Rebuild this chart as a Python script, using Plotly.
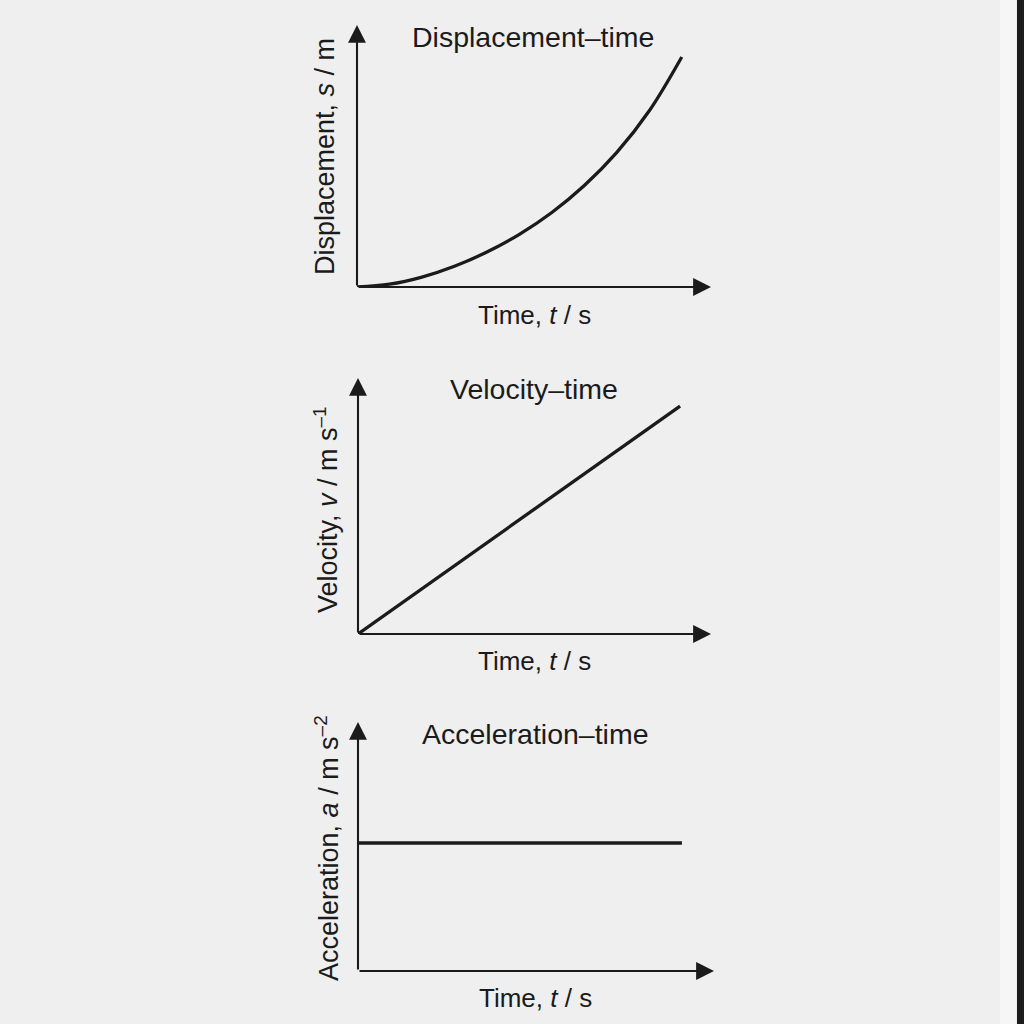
import plotly.graph_objects as go

# ---- data ----
time_s = [0, 1, 2, 3, 4, 5, 6, 7, 8, 9, 10]
displacement = [0, 1.2, 4.3, 9.0, 15.2, 22.9, 32.4, 44.1, 58.5, 76.6, 100]
time_v = [0, 10]
velocity = [0, 10]
time_a = [0, 10]
acceleration = [1, 1]

titles = ["Displacement–time", "Velocity–time", "Acceleration–time"]
ylabels = ["Displacement, <i>s</i> / m",
           "Velocity, <i>v</i> / m s<sup>–1</sup>",
           "Acceleration, <i>a</i> / m s<sup>–2</sup>"]
xlabel = "Time, <i>t</i> / s"

W = H = 1024
INK = "#1b1b1b"
FONT = "Liberation Sans, Arial, sans-serif"

def px(v):
    return v / W

def py(v):
    return 1 - v / H

# panel geometry in pixels: (x0, x1, ybottom, ytop, xmax, ymax)
panels = [
    (357, 711, 287, 25, 10.9, 113.9),
    (358, 711, 634, 378, 10.96, 11.23),
    (358, 714, 971, 722, 10.99, 1.945),
]
title_pos = [(533, 37), (534, 389), (535, 734)]
ylab_pos = [(325, 157), (326, 510), (327, 848)]
xlab_pos = [(534, 315), (534, 661), (535, 998)]

fig = go.Figure()
series = [(time_s, displacement), (time_v, velocity), (time_a, acceleration)]
for i, (xs, ys) in enumerate(series):
    suf = "" if i == 0 else str(i + 1)
    fig.add_trace(go.Scatter(x=xs, y=ys, mode="lines",
                             line=dict(color=INK, width=3.3, shape="spline", smoothing=1.0),
                             xaxis="x" + suf, yaxis="y" + suf,
                             showlegend=False, hoverinfo="skip"))

layout = dict(width=W, height=H, autosize=False,
              margin=dict(l=0, r=0, t=0, b=0),
              paper_bgcolor="#efefef", plot_bgcolor="rgba(0,0,0,0)",
              font=dict(family=FONT, color=INK))
annotations = []
shapes = []
for i, (x0, x1, yb, yt, xmax, ymax) in enumerate(panels):
    suf = "" if i == 0 else str(i + 1)
    ax_common = dict(showline=False, showgrid=False, zeroline=False,
                     showticklabels=False, ticks="", fixedrange=True)
    layout["xaxis" + suf] = dict(domain=[px(x0), px(x1)], range=[0, xmax],
                                 anchor="y" + suf, **ax_common)
    layout["yaxis" + suf] = dict(domain=[py(yb), py(yt)], range=[0, ymax],
                                 anchor="x" + suf, **ax_common)
    xr = "x" + suf
    yr = "y" + suf
    # axes drawn as arrows
    annotations.append(dict(x=xmax, y=0, ax=0, ay=0, xref=xr, yref=yr,
                            axref=xr, ayref=yr, showarrow=True, arrowhead=2,
                            arrowsize=1.7, arrowwidth=2.1, arrowcolor=INK, text=""))
    annotations.append(dict(x=0, y=ymax, ax=0, ay=0, xref=xr, yref=yr,
                            axref=xr, ayref=yr, showarrow=True, arrowhead=2,
                            arrowsize=1.7, arrowwidth=2.1, arrowcolor=INK, text=""))
    tx, ty = title_pos[i]
    annotations.append(dict(x=px(tx), y=py(ty), xref="paper", yref="paper",
                            text=titles[i], showarrow=False, xanchor="center",
                            yanchor="middle", font=dict(size=28.5, family=FONT, color=INK)))
    lx, ly = ylab_pos[i]
    annotations.append(dict(x=px(lx), y=py(ly), xref="paper", yref="paper",
                            text=ylabels[i], showarrow=False, textangle=-90,
                            xanchor="center", yanchor="middle",
                            font=dict(size=27, family=FONT, color=INK)))
    bx, by = xlab_pos[i]
    annotations.append(dict(x=px(bx), y=py(by), xref="paper", yref="paper",
                            text=xlabel, showarrow=False, xanchor="center",
                            yanchor="middle", font=dict(size=26, family=FONT, color=INK)))

# page edge at the right
shapes.append(dict(type="rect", xref="paper", yref="paper", x0=px(1000), x1=px(1016),
                   y0=0, y1=1, fillcolor="#f6f6f6", line=dict(width=0), layer="below"))
shapes.append(dict(type="rect", xref="paper", yref="paper", x0=px(1017), x1=1,
                   y0=0, y1=1, fillcolor="#1c1c1c", line=dict(width=0), layer="below"))

layout["annotations"] = annotations
layout["shapes"] = shapes
fig.update_layout(**layout)
fig.write_html("out.html", config={"displayModeBar": False},
               post_script="document.body.style.margin='0';document.body.style.background='#efefef';")
